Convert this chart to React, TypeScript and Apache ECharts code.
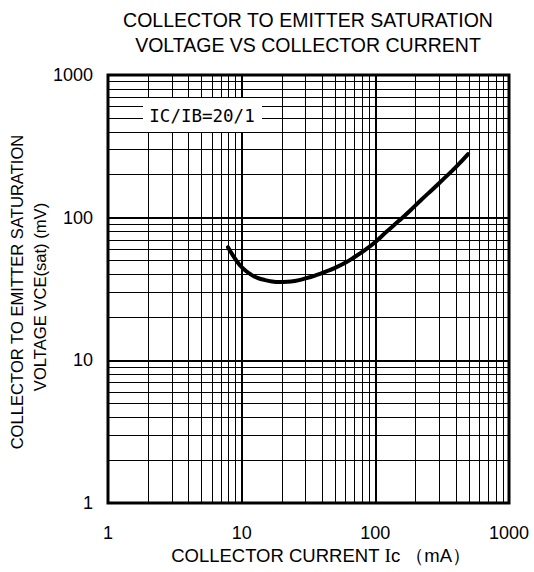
import React, { useEffect, useRef } from "react";
import * as echarts from "echarts";

const titleLines = ["COLLECTOR TO EMITTER SATURATION", "VOLTAGE VS COLLECTOR CURRENT"];
const yTitleLines = ["COLLECTOR TO EMITTER SATURATION", "VOLTAGE VCE(sat) (mV)"];
const annotation = "IC/IB=20/1";

const icValues = [7.9, 9, 10, 11.5, 13, 15, 17, 19, 22, 25, 30, 36, 43, 50, 60, 70, 85, 100, 120, 150, 180, 220, 270, 330, 400, 494];
const vceValues = [62, 51, 45, 40.5, 38, 36.5, 35.7, 35.4, 35.5, 36, 37.5, 39.5, 42, 44.5, 48.5, 53, 60, 67.5, 79, 95, 111, 133, 159, 190, 226, 279];

const decades = [1, 10, 100];
const minorMultipliers = [2, 3, 4, 5, 6, 7, 8, 9];

export default function App() {
  const ref = useRef<HTMLDivElement>(null);
  useEffect(() => {
    if (!ref.current) return;
    const chart = echarts.init(ref.current, null, { renderer: "svg" });
    const minorVals: number[] = [];
    decades.forEach((d) => minorMultipliers.forEach((m) => minorVals.push(d * m)));
    const font = "Liberation Sans, Arial, sans-serif";
    chart.setOption({
      animation: false,
      backgroundColor: "#fff",
      grid: {
        left: 108,
        right: 25,
        top: 75,
        bottom: 69,
        show: true,
        borderColor: "#000",
        borderWidth: 3,
        backgroundColor: "transparent",
        z: 10,
      },
      xAxis: {
        type: "log",
        logBase: 10,
        min: 1,
        max: 1000,
        axisLine: { show: false },
        axisTick: { show: false },
        axisLabel: { color: "#000", fontSize: 18, fontFamily: font, margin: 21, formatter: (v: number) => String(v) },
        splitLine: { show: true, lineStyle: { color: "#000", width: 2 } },
      },
      yAxis: {
        type: "log",
        logBase: 10,
        min: 1,
        max: 1000,
        axisLine: { show: false },
        axisTick: { show: false },
        axisLabel: { color: "#000", fontSize: 18, fontFamily: font, margin: 15, formatter: (v: number) => String(v) },
        splitLine: { show: true, lineStyle: { color: "#000", width: 2 } },
      },
      graphic: [
        {
          type: "text",
          x: 308,
          y: 20,
          z: 100,
          style: { text: titleLines[0], fill: "#000", font: `19.5px ${font}`, align: "center", verticalAlign: "middle" },
        },
        {
          type: "text",
          x: 308,
          y: 45,
          z: 100,
          style: { text: titleLines[1], fill: "#000", font: `19.5px ${font}`, align: "center", verticalAlign: "middle" },
        },
        {
          type: "text",
          x: 17,
          y: 292,
          rotation: Math.PI / 2,
          z: 100,
          style: { text: yTitleLines[0], fill: "#000", font: `16.6px ${font}`, align: "center", verticalAlign: "middle" },
        },
        {
          type: "text",
          x: 40,
          y: 297,
          rotation: Math.PI / 2,
          z: 100,
          style: { text: yTitleLines[1], fill: "#000", font: `16.6px ${font}`, align: "center", verticalAlign: "middle" },
        },
        {
          type: "text",
          x: 321,
          y: 555,
          z: 100,
          style: {
            text: "COLLECTOR CURRENT {s|I}c （mA）",
            fill: "#000",
            font: `18.5px ${font}`,
            align: "center",
            verticalAlign: "middle",
            rich: {
              s: { fontFamily: "Liberation Serif, serif", fontSize: 19.5, fill: "#000" },
            },
          },
        },
        {
          type: "rect",
          z: 100,
          shape: { x: 143, y: 98, width: 119, height: 34 },
          style: { fill: "#fff" },
        },
        {
          type: "text",
          x: 202,
          y: 116,
          z: 101,
          style: { text: annotation, fill: "#000", font: `17.5px DejaVu Sans Mono, monospace`, align: "center", verticalAlign: "middle" },
        },
      ],
      series: [
        {
          type: "line",
          data: [],
          z: 1,
          silent: true,
          markLine: {
            silent: true,
            symbol: ["none", "none"],
            label: { show: false },
            lineStyle: { color: "#000", width: 1, type: "solid" },
            data: [
              ...minorVals.map((v) => ({ xAxis: v })),
              ...minorVals.map((v) => ({ yAxis: v })),
            ],
          },
        },
        {
          type: "line",
          z: 5,
          smooth: true,
          showSymbol: false,
          symbol: "none",
          lineStyle: { color: "#000", width: 4, cap: "round" },
          data: icValues.map((x, i) => [x, vceValues[i]]),
        },
      ],
    });
    return () => chart.dispose();
  }, []);
  return <div ref={ref} style={{ position: "fixed", left: 0, top: 0, width: 534, height: 572 }} />;
}
